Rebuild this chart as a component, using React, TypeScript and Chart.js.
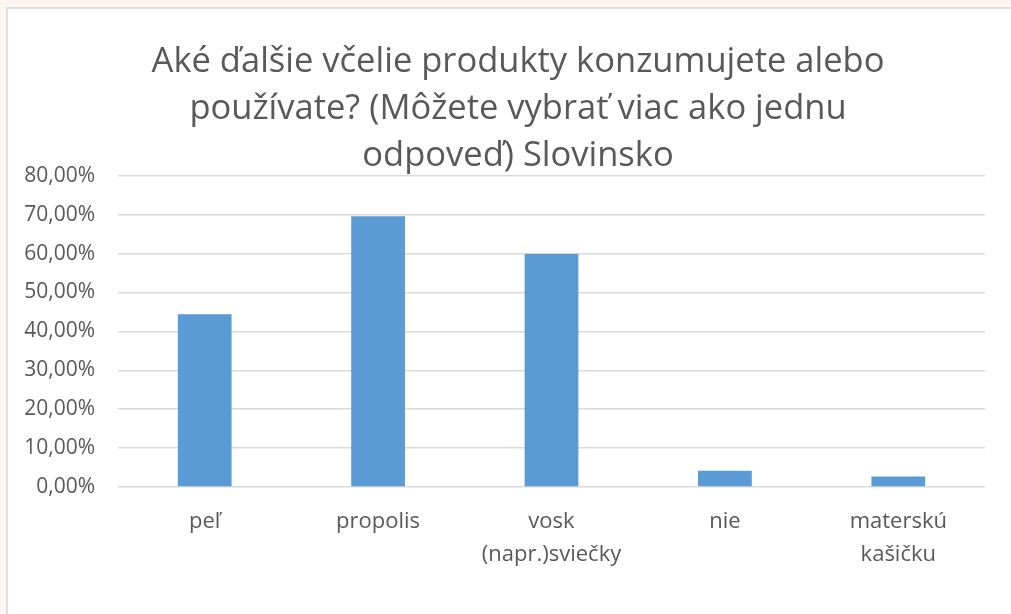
import React, { useEffect, useRef } from "react";
import { Chart, registerables } from "chart.js";

Chart.register(...registerables);

const titleLines = [
  "Aké ďalšie včelie produkty konzumujete alebo",
  "používate? (Môžete vybrať viac ako jednu",
  "odpoveď) Slovinsko",
];
const categories: (string | string[])[] = [
  "peľ",
  "propolis",
  ["vosk", "(napr.)sviečky"],
  "nie",
  ["materskú", "kašičku"],
];
const values = [44.4, 69.6, 59.9, 4.2, 2.7];
const yMin = 0;
const yMax = 80;
const yStep = 10;

const FONT = "'Open Sans', 'Liberation Sans', sans-serif";
const TEXT = "#595959";

// let the y tick labels use the room left of the axis box (the title is centred on the chart)
const labelRoom = {
  id: "labelRoom",
  afterLayout(chart: any) {
    if (chart.scales.y) chart.scales.y.left = 0;
  },
};

export default function App() {
  const ref = useRef<HTMLCanvasElement | null>(null);

  useEffect(() => {
    if (!ref.current) return;
    const chart = new Chart(ref.current, {
      type: "bar",
      data: {
        labels: categories,
        datasets: [
          {
            data: values,
            backgroundColor: "#5B9BD5",
            borderWidth: 0,
            barPercentage: 0.31,
            categoryPercentage: 1,
          },
        ],
      },
      options: {
        animation: false,
        responsive: false,
        maintainAspectRatio: false,
        layout: { padding: { left: 43, right: 43, top: 30, bottom: 0 } },
        plugins: {
          legend: { display: false },
          tooltip: { enabled: false },
          title: {
            display: true,
            text: titleLines,
            color: TEXT,
            font: { family: FONT, size: 34.5, weight: "normal", lineHeight: 1.36 },
            padding: { top: 0, bottom: -4 },
          },
        },
        scales: {
          x: {
            afterFit: (scale: any) => {
              scale.height = 127;
            },
            grid: { display: false },
            border: { display: false },
            ticks: {
              color: TEXT,
              font: { family: FONT, size: 22, lineHeight: 1.5 },
              padding: 10,
              maxRotation: 0,
              autoSkip: false,
            },
          },
          y: {
            min: yMin,
            max: yMax,
            afterFit: (scale: any) => {
              scale.width = 67;
            },
            grid: { color: "#D9D9D9", lineWidth: 1.5, drawTicks: false },
            border: { display: false },
            ticks: {
              stepSize: yStep,
              color: TEXT,
              padding: 23,
              font: { family: FONT, size: 21 },
              callback: (v: any) => Number(v).toFixed(2).replace(".", ",") + "%",
            },
          },
        },
      },
      plugins: [labelRoom],
    });
    return () => chart.destroy();
  }, []);

  return (
    <div
      style={{
        position: "fixed",
        left: 0,
        top: 0,
        width: 1011,
        height: 614,
        background: "#FEF5F3",
        overflow: "hidden",
      }}
    >
      <div
        style={{
          position: "absolute",
          left: 6,
          top: 7,
          width: 1022,
          height: 607,
          background: "#FFFFFF",
          borderLeft: "2px solid #E0E0E0",
          borderTop: "2px solid #E0E0E0",
        }}
      >
        <canvas ref={ref} width={1020} height={605} style={{ display: "block" }} />
      </div>
    </div>
  );
}
